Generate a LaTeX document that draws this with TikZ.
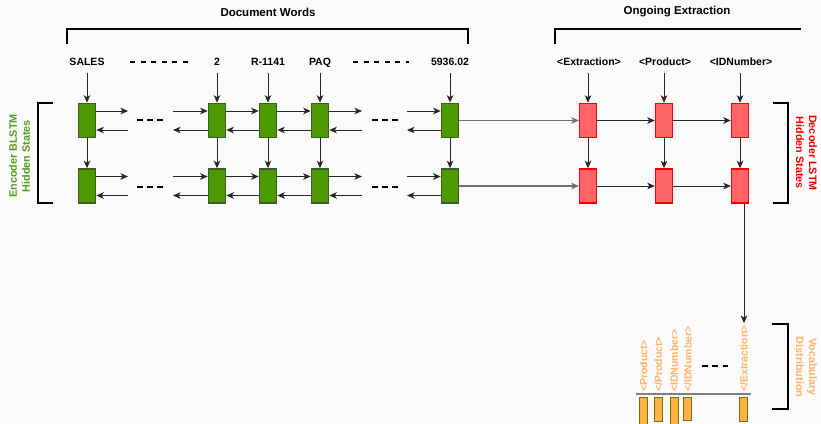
\documentclass[tikz,border=0pt]{standalone}
\usepackage{fontspec}
\setmainfont{Liberation Sans}
\usetikzlibrary{arrows.meta}
\definecolor{gfill}{RGB}{77,153,0}
\definecolor{gline}{RGB}{58,94,38}
\definecolor{gtext}{RGB}{84,158,30}
\definecolor{rfill}{RGB}{255,102,102}
\definecolor{rline}{RGB}{245,0,0}
\definecolor{otext}{RGB}{255,179,102}
\definecolor{ofill}{RGB}{255,179,71}
\definecolor{oline}{RGB}{120,112,0}
\definecolor{bgc}{RGB}{250,250,250}
\definecolor{lgray}{RGB}{110,110,110}
\begin{document}
\begin{tikzpicture}[x=1pt,y=-1pt,
  lbl/.style={font=\fontsize{10.5}{12.6}\selectfont\bfseries, inner sep=0pt, text height=7.5pt, text depth=0pt, minimum height=22pt},
  ttl/.style={font=\fontsize{11.5}{13.8}\selectfont\bfseries, inner sep=0pt},
  side/.style={font=\fontsize{10.8}{13}\selectfont\bfseries, align=center, inner sep=0pt},
  vlbl/.style={font=\fontsize{10.5}{12.6}\selectfont\bfseries, text=otext, rotate=90, anchor=west, inner sep=2pt},
  gcell/.style={draw=gline, fill=gfill, line width=1.6pt, minimum width=17pt, minimum height=34pt, inner sep=0pt},
  rcell/.style={draw=rline, fill=rfill, line width=1.4pt, minimum width=17pt, minimum height=34pt, inner sep=0pt},
  bar/.style={draw=oline, fill=ofill, line width=1.4pt, minimum width=8pt, inner sep=0pt, anchor=north},
  arr/.style={-{Stealth[length=7.5pt,width=6.5pt,inset=2pt]}, line width=1pt, draw=black!85},
  garr/.style={arr, draw=lgray, line width=1.2pt},
  brk/.style={line width=1.5pt, draw=black},
  dotline/.style={line width=1.6pt, draw=black}
]
\useasboundingbox[fill=bgc] (0,0) rectangle (821,423);

% titles and brackets
\node[ttl] (tdoc) at (268,12) {Document Words};
\node[ttl] (tong) at (677,12) {Ongoing Extraction};
\draw[brk] (67,44) -- (67,29) -- (468,29) -- (468,44);
\draw[brk] (555,44) -- (555,29) -- (801,29);

% word labels
\node[lbl] (w1) at (87,62) {SALES};
\node[lbl] (w2) at (217,62) {2};
\node[lbl] (w3) at (268,62) {R-1141};
\node[lbl] (w4) at (320,62) {PAQ};
\node[lbl] (w5) at (450,62) {5936.02};
\node[lbl] (k1) at (589,62) {<Extraction>};
\node[lbl] (k2) at (665,62) {<Product>};
\node[lbl] (k3) at (741,62) {<IDNumber>};
\draw[dotline, dash pattern=on 5pt off 5.6pt] (130,62) -- (188,62);
\draw[dotline, dash pattern=on 5pt off 5.6pt] (353,62) -- (409,62);

% encoder cells
\foreach \n/\x in {1/87,2/217,3/268,4/320,5/450}{
  \node[gcell] (a\n) at (\x,120.5) {};
  \node[gcell] (b\n) at (\x,186) {};
}
% decoder cells
\foreach \n/\x in {1/588,2/664,3/740}{
  \node[rcell] (x\n) at (\x,120.5) {};
  \node[rcell] (y\n) at (\x,186) {};
}

% input arrows
\foreach \n in {1,...,5}{
  \draw[arr] (a\n.north |- w\n.south) -- (a\n.north);
  \draw[arr] (a\n) -- (b\n);
}
\foreach \n in {1,2,3}{
  \draw[arr] (x\n.north |- k\n.south) -- (x\n.north);
  \draw[arr] (x\n) -- (y\n);
}

% free ends near the gaps
\coordinate (p1f) at (128,111);   \coordinate (p1b) at (128,130);
\coordinate (q1f) at (173,111);   \coordinate (q1b) at (173,130);
\coordinate (r1f) at (362,111);   \coordinate (r1b) at (362,130);
\coordinate (s1f) at (407,111);   \coordinate (s1b) at (407,130);
\coordinate (p2f) at (128,176.5); \coordinate (p2b) at (128,195.5);
\coordinate (q2f) at (173,176.5); \coordinate (q2b) at (173,195.5);
\coordinate (r2f) at (362,176.5); \coordinate (r2b) at (362,195.5);
\coordinate (s2f) at (407,176.5); \coordinate (s2b) at (407,195.5);

\foreach \r/\c in {1/a,2/b}{
  \draw[arr] ([yshift=9.5pt]\c1.east) -- (p\r f);
  \draw[arr] (p\r b) -- ([yshift=-9.5pt]\c1.east);
  \draw[arr] (q\r f) -- ([yshift=9.5pt]\c2.west);
  \draw[arr] ([yshift=-9.5pt]\c2.west) -- (q\r b);
  \draw[arr] ([yshift=9.5pt]\c2.east) -- ([yshift=9.5pt]\c3.west);
  \draw[arr] ([yshift=-9.5pt]\c3.west) -- ([yshift=-9.5pt]\c2.east);
  \draw[arr] ([yshift=9.5pt]\c3.east) -- ([yshift=9.5pt]\c4.west);
  \draw[arr] ([yshift=-9.5pt]\c4.west) -- ([yshift=-9.5pt]\c3.east);
  \draw[arr] ([yshift=9.5pt]\c4.east) -- (r\r f);
  \draw[arr] (r\r b) -- ([yshift=-9.5pt]\c4.east);
  \draw[arr] (s\r f) -- ([yshift=9.5pt]\c5.west);
  \draw[arr] ([yshift=-9.5pt]\c5.west) -- (s\r b);
}
\draw[dotline, dash pattern=on 5.5pt off 4.5pt] (137,120) -- (163,120);
\draw[dotline, dash pattern=on 5.5pt off 4.5pt] (372,120) -- (398,120);
\draw[dotline, dash pattern=on 5.5pt off 4.5pt] (137,187) -- (163,187);
\draw[dotline, dash pattern=on 5.5pt off 4.5pt] (372,187) -- (398,187);

% encoder to decoder
\draw[garr] (a5) -- (x1);
\draw[garr] (b5) -- (y1);
\draw[arr] (x1) -- (x2);
\draw[arr] (x2) -- (x3);
\draw[arr] (y1) -- (y2);
\draw[arr] (y2) -- (y3);

% side labels and brackets
\draw[brk] (53,103) -- (38,103) -- (38,203) -- (53,203);
\node[side, text=gtext, rotate=90] (enc) at (19.5,156) {Encoder BLSTM\\Hidden States};
\draw[brk] (773,103) -- (788,103) -- (788,203) -- (773,203);
\node[side, text=rline, rotate=-90] (dec) at (806.5,153) {Decoder LSTM\\Hidden States};
\draw[brk] (772,324) -- (788,324) -- (788,409) -- (772,409);
\node[side, text=otext, rotate=-90] (voc) at (806.5,367) {Vocabulary\\Distribution};

% vocabulary distribution
\node[vlbl] (v1) at (643.5,394) {<Product>};
\node[vlbl] (v2) at (658.5,394) {</Product>};
\node[vlbl] (v3) at (674,394) {<IDNumber>};
\node[vlbl] (v4) at (688,394) {</IDNumber>};
\node[vlbl] (v5) at (744,394) {</Extraction>};
\draw[dotline, dash pattern=on 5.5pt off 4.75pt] (702,366) -- (728,366);
\draw[line width=1.5pt, draw=black!50] (636,394) -- (751,394);
\node[bar, minimum height=30pt] (bar1) at (643.5,396.5) {};
\node[bar, minimum height=24pt] (bar2) at (658.5,396.5) {};
\node[bar, minimum height=30pt] (bar3) at (674.5,396.5) {};
\node[bar, minimum height=23pt] (bar4) at (687.5,396.5) {};
\node[bar, minimum height=24pt] (bar5) at (743.5,396.5) {};

\draw[arr] (y3.south -| v5.east) -- (v5.east);
\end{tikzpicture}
\end{document}
